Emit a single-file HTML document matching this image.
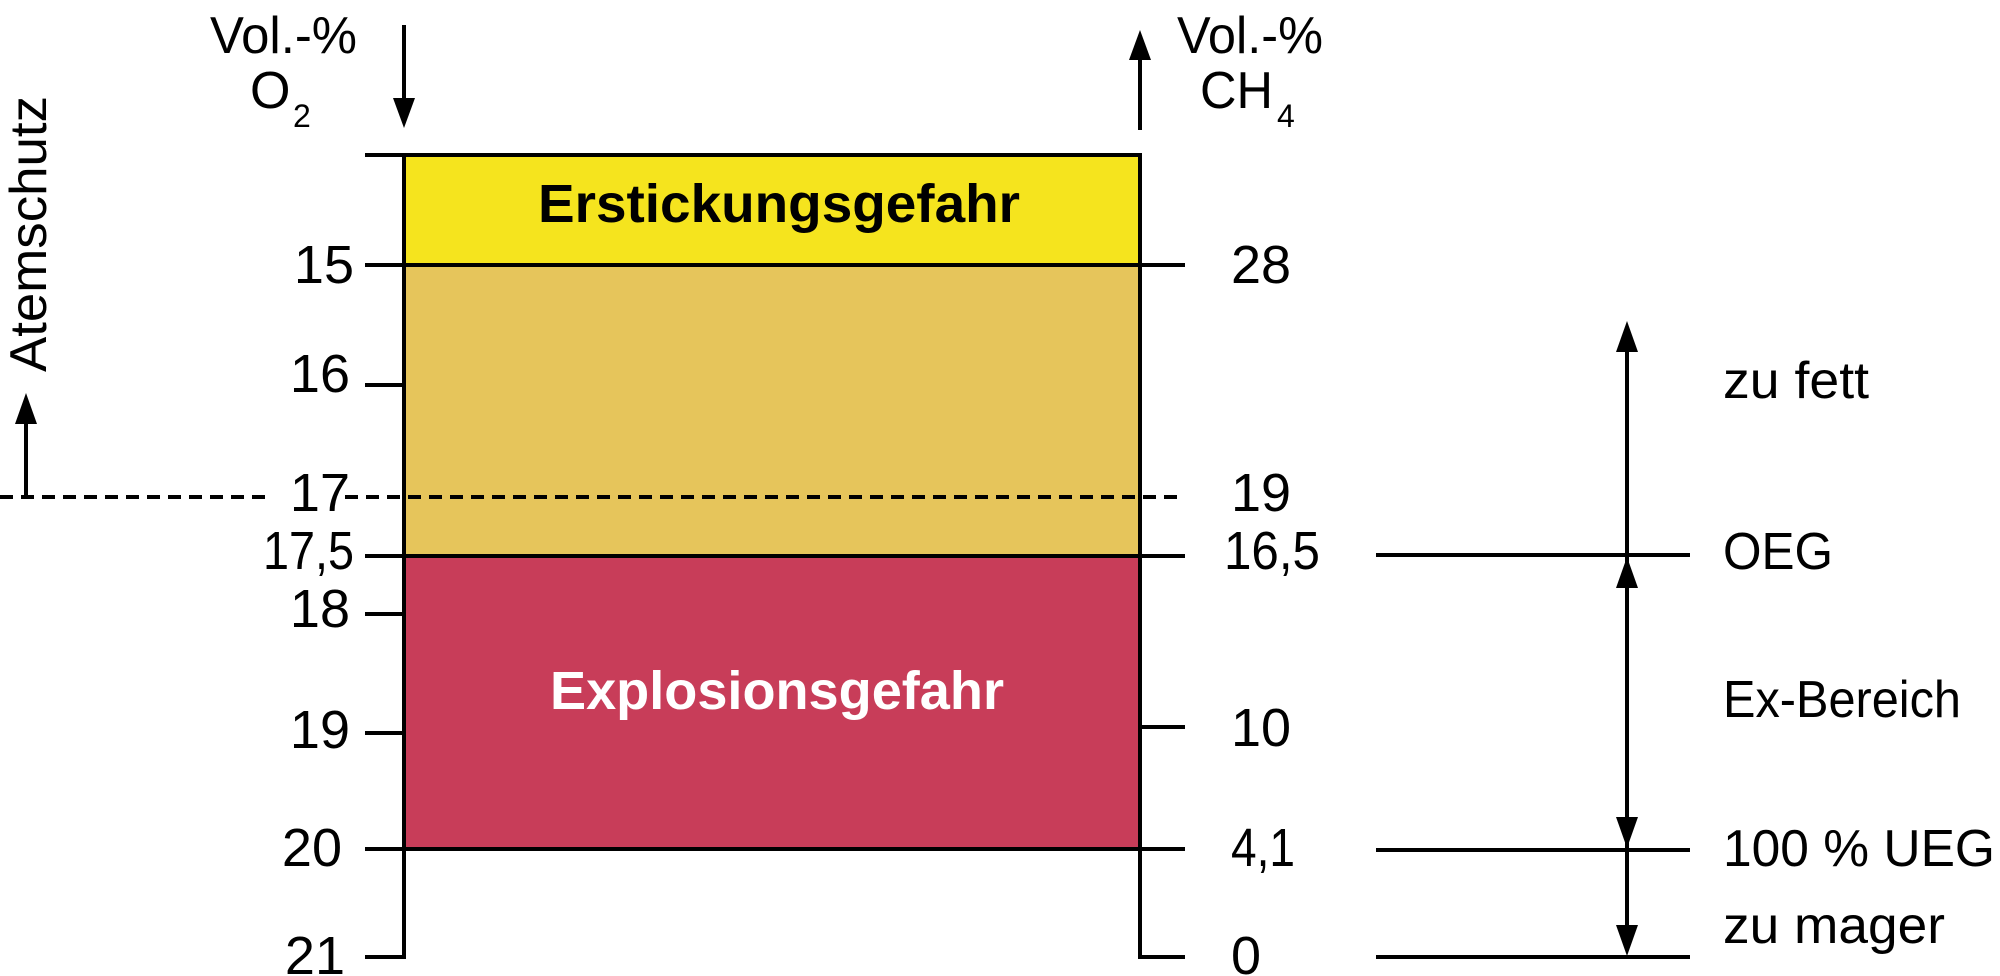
<!DOCTYPE html>
<html><head><meta charset="utf-8"><style>
html,body{margin:0;padding:0;background:#fff;}
svg{display:block;}
text{font-family:"Liberation Sans",sans-serif;fill:#000;}
</style></head><body>
<svg width="2000" height="976" viewBox="0 0 2000 976" xmlns="http://www.w3.org/2000/svg">
<defs>
<marker id="ah" viewBox="0 0 22 30" refX="11" refY="0" markerWidth="22" markerHeight="30" markerUnits="userSpaceOnUse" orient="auto-start-reverse">
</marker>
</defs>
<!-- fills -->
<rect x="404" y="154" width="736" height="111" fill="#F5E41E"/>
<rect x="404" y="265" width="736" height="291" fill="#E6C55B"/>
<rect x="404" y="556" width="736" height="293" fill="#C83D59"/>
<g stroke="#000" stroke-width="4" fill="none">
<line x1="365" y1="155" x2="1142" y2="155"/>
<line x1="404" y1="153" x2="404" y2="959"/>
<line x1="1140" y1="153" x2="1140" y2="959"/>
<line x1="365" y1="265" x2="1185" y2="265"/>
<line x1="365" y1="385" x2="404" y2="385"/>
<line x1="365" y1="556" x2="1185" y2="556"/>
<line x1="365" y1="614" x2="404" y2="614"/>
<line x1="365" y1="733" x2="404" y2="733"/>
<line x1="1140" y1="727" x2="1185" y2="727"/>
<line x1="365" y1="849" x2="1185" y2="849"/>
<line x1="365" y1="957" x2="404" y2="957"/>
<line x1="1140" y1="957" x2="1185" y2="957"/>
<line x1="1376" y1="555" x2="1690" y2="555"/>
<line x1="1376" y1="850" x2="1690" y2="850"/>
<line x1="1376" y1="957" x2="1690" y2="957"/>
<line x1="0" y1="497" x2="268" y2="497" stroke-dasharray="13 8"/>
<line x1="345" y1="497" x2="1185" y2="497" stroke-dasharray="13 8"/>
<!-- arrows shafts -->
<line x1="404" y1="25" x2="404" y2="105"/>
<line x1="1140" y1="130" x2="1140" y2="55"/>
<line x1="26" y1="495" x2="26" y2="420"/>
<line x1="1627" y1="340" x2="1627" y2="930"/>
</g>
<g fill="#000">
<polygon points="393,98 415,98 404,128"/>
<polygon points="1129,60 1151,60 1140,30"/>
<polygon points="15,424 37,424 26,393"/>
<polygon points="1616,352 1638,352 1627,321"/>
<polygon points="1616,588 1638,588 1627,557"/>
<polygon points="1616,817 1638,817 1627,848"/>
<polygon points="1616,925 1638,925 1627,956"/>
</g>
<!-- headers -->
<text x="210" y="53" font-size="52" textLength="147" lengthAdjust="spacingAndGlyphs">Vol.-%</text>
<text x="250" y="108" font-size="52">O</text><text x="293" y="127" font-size="32">2</text>
<text x="1177" y="53" font-size="52" textLength="146" lengthAdjust="spacingAndGlyphs">Vol.-%</text>
<text x="1200" y="108" font-size="52" textLength="73" lengthAdjust="spacingAndGlyphs">CH</text><text x="1277" y="127" font-size="32">4</text>
<text transform="translate(46,372) rotate(-90)" font-size="52" textLength="276" lengthAdjust="spacingAndGlyphs">Atemschutz</text>
<!-- left ticks -->
<g font-size="54" text-anchor="end">
<text x="354" y="283">15</text>
<text x="350" y="392">16</text>
<text x="350" y="511">17</text>
<text x="354" y="569" textLength="91" lengthAdjust="spacingAndGlyphs">17,5</text>
<text x="350" y="627">18</text>
<text x="350" y="748">19</text>
<text x="342" y="866">20</text>
<text x="345" y="974">21</text>
</g>
<g font-size="54">
<text x="1231" y="283">28</text>
<text x="1231" y="511">19</text>
<text x="1224" y="569" textLength="96" lengthAdjust="spacingAndGlyphs">16,5</text>
<text x="1231" y="746">10</text>
<text x="1231" y="866" textLength="64" lengthAdjust="spacingAndGlyphs">4,1</text>
<text x="1231" y="974">0</text>
</g>
<g font-size="52">
<text x="1723" y="398" textLength="146" lengthAdjust="spacingAndGlyphs">zu fett</text>
<text x="1723" y="569" textLength="110" lengthAdjust="spacingAndGlyphs">OEG</text>
<text x="1723" y="717" textLength="238" lengthAdjust="spacingAndGlyphs">Ex-Bereich</text>
<text x="1723" y="866" textLength="272" lengthAdjust="spacingAndGlyphs">100 % UEG</text>
<text x="1723" y="943" textLength="222" lengthAdjust="spacingAndGlyphs">zu mager</text>
</g>
<text x="538" y="222" font-size="54" font-weight="bold" textLength="482" lengthAdjust="spacingAndGlyphs">Erstickungsgefahr</text>
<text x="550" y="709" font-size="54" font-weight="bold" fill="#fff" style="fill:#fff" textLength="454" lengthAdjust="spacingAndGlyphs">Explosionsgefahr</text>
</svg>
</body></html>
